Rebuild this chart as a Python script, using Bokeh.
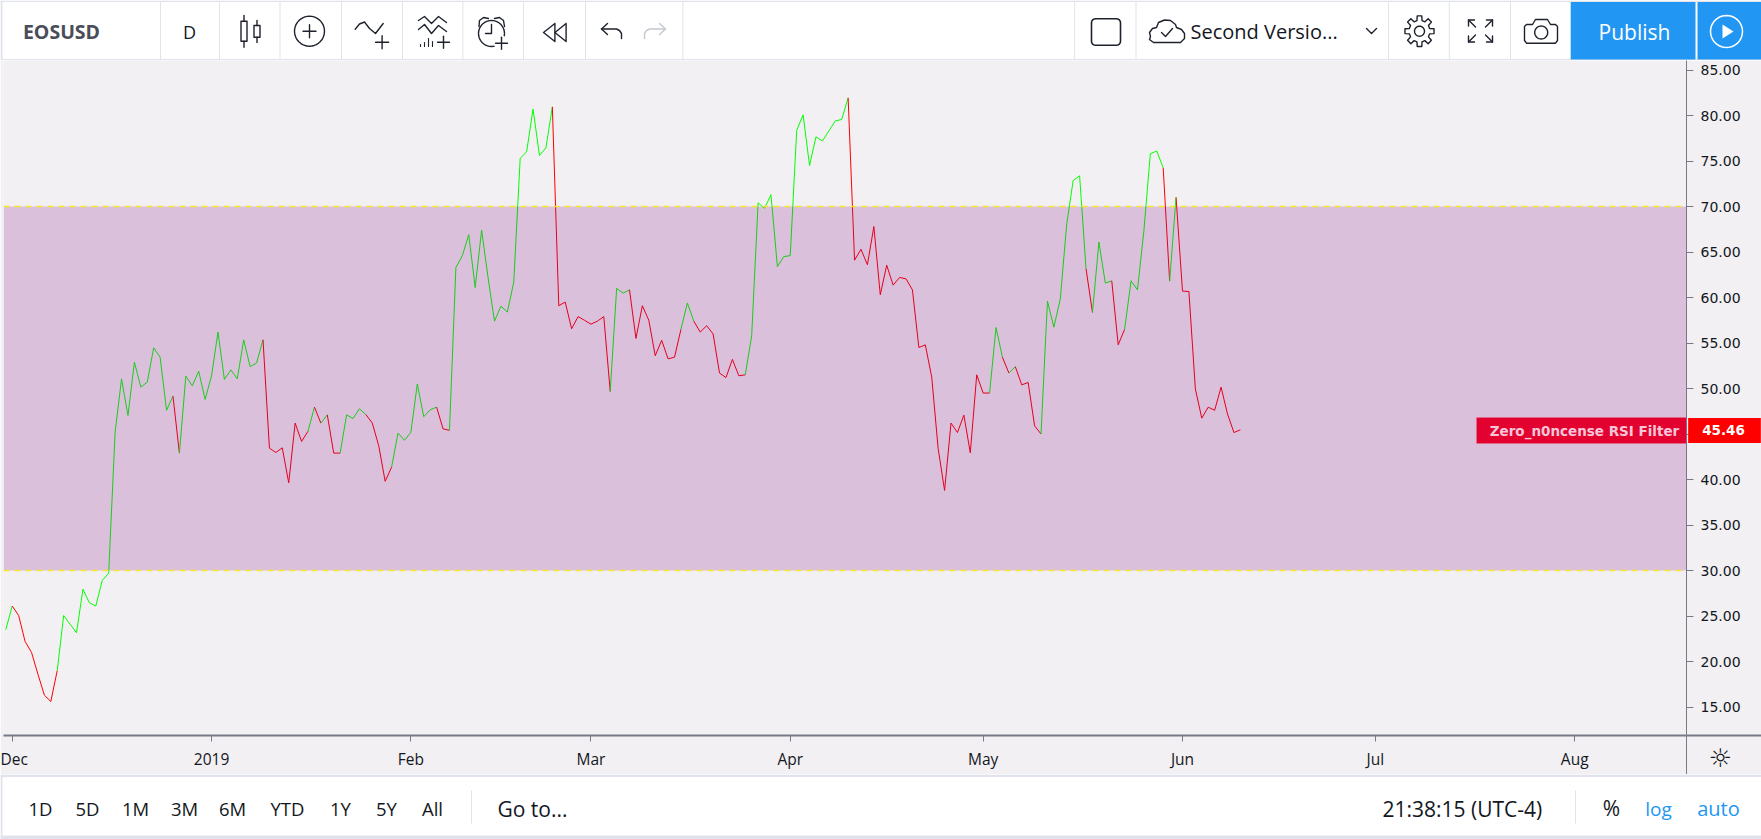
import math
import pandas as pd
from bokeh.plotting import figure
from bokeh.layouts import column
from bokeh.models import (Range1d, LinearAxis, FixedTicker, BoxAnnotation, Span, Label,
                          ColumnDataSource)
from bokeh.embed import file_html
from bokeh.resources import INLINE

symbol = "EOSUSD"
first_day = "2018-11-30"
rsi_values = [
 23.5,26.1,25.05,22.2,21.0,18.6,16.3,15.6,19.0,25.05,24.1,23.15,27.95,26.45,26.1,28.9,29.7,
 45.2,51.06,47.03,52.9,50.15,50.7,54.47,53.44,47.6,49.16,42.9,51.36,50.3,51.9,48.8,51.4,56.2,
 51.0,52.05,51.06,55.35,52.4,52.8,55.35,43.44,42.97,43.48,39.63,46.2,44.18,45.3,47.95,46.2,47.1,
 42.9,42.9,47.1,46.7,47.77,47.14,46.2,43.7,39.8,41.36,45.1,44.3,45.2,50.5,46.9,47.66,47.95,
 45.57,45.4,63.3,64.6,66.9,61.1,67.4,62.2,57.4,59.05,58.4,61.7,75.3,76.0,80.7,75.6,76.45,80.95,
 59.1,59.5,56.56,57.9,57.5,57.07,57.4,57.9,49.67,61.0,60.48,60.84,55.5,59.1,57.5,53.6,55.3,
 53.26,53.44,56.5,59.4,57.4,56.2,56.9,56.0,51.7,51.2,53.2,51.4,51.5,55.8,70.4,69.8,71.3,63.4,
 64.5,64.6,78.35,80.07,74.5,77.66,77.2,78.3,79.4,79.56,81.94,64.1,65.3,63.6,67.8,60.3,63.55,
 61.36,62.2,62.05,60.84,54.5,54.8,51.25,43.4,38.8,46.2,45.16,47.07,42.93,51.5,49.5,49.5,56.7,
 53.44,51.7,52.4,50.4,50.66,45.9,45.0,59.6,56.74,59.85,68.1,72.86,73.37,63.15,58.35,66.1,61.58,
 61.83,54.8,56.5,61.83,60.84,67.36,75.8,76.1,74.25,61.8,71.0,60.7,60.66,49.96,46.74,47.95,47.6,
 50.15,47.2,45.16,45.46]
# (colour state, number of daily segments in the run)
color_runs = [("up",1),("down",7),("up",18),("down",1),("up",13),("down",7),("up",1),("down",1),
 ("up",1),("down",2),("up",4),("down",4),("up",7),("down",2),("up",16),("down",9),("up",3),
 ("down",8),("up",2),("down",8),("up",16),("down",22),("up",2),("down",1),("up",1),("down",4),
 ("up",7),("down",1),("up",3),("down",2),("up",6),("down",1),("up",1),("down",10)]
band_upper = 70
band_lower = 30
y_ticks = [15,20,25,30,35,40,45,50,55,60,65,70,75,80,85]
month_ticks = ["2018-12-01","2019-01-01","2019-02-01","2019-03-01","2019-04-01","2019-05-01",
               "2019-06-01","2019-07-01","2019-08-01"]
month_labels = ["Dec","2019","Feb","Mar","Apr","May","Jun","Jul","Aug"]
last_value = "45.46"
indicator_name = "Zero_n0ncense RSI Filter"
range_buttons = [("1D",40),("5D",87),("1M",135),("3M",184),("6M",232),("YTD",287),("1Y",340),("5Y",386),("All",432)]

W, H_TOP, H_CHART, H_BOT = 1761, 60, 714, 65
FONT = "DejaVu Sans"
UI = "Open Sans"
INK = "#131722"
RULE = "#e0e3eb"
AXIS = "#787b86"
BG = "#f2f0f3"

DAY_MS = 86400000.0
t0 = pd.Timestamp(first_day)
days = pd.date_range(first_day, periods=len(rsi_values), freq="D")
xv = [d.value / 1e6 for d in days]
t0_ms = t0.value / 1e6
PX_DAY = 6.43
FIRST_PX = 5.3
x_left = t0_ms + (3 - FIRST_PX) / PX_DAY * DAY_MS
x_right = t0_ms + (1686 - FIRST_PX) / PX_DAY * DAY_MS
PX_UNIT = 9.1
y_top = band_upper + (206 - 60) / PX_UNIT
y_bot = band_lower - (735 - 570) / PX_UNIT

# ---------- chart ----------
p = figure(width=W, height=H_CHART, frame_width=1683, frame_height=675,
           output_backend="svg", toolbar_location=None, tools="",
           x_range=Range1d(x_left, x_right), y_range=Range1d(y_bot, y_top),
           x_axis_location=None, y_axis_location=None, frame_align=False,
           min_border_left=3, min_border_right=75, min_border_top=0, min_border_bottom=39,
           background_fill_color=BG, border_fill_color=BG, outline_line_color=None)
p.grid.visible = False

xs_runs, ys_runs, colors = [], [], []
i = 0
for state, n in color_runs:
    xs_runs.append(xv[i:i + n + 1])
    ys_runs.append(rsi_values[i:i + n + 1])
    colors.append("#00ff00" if state == "up" else "#ff0000")
    i += n
p.multi_line("xs", "ys", color="color", line_width=1.0,
             source=ColumnDataSource(dict(xs=xs_runs, ys=ys_runs, color=colors)))

p.add_layout(BoxAnnotation(top=band_upper, bottom=band_lower, fill_color="#800080", fill_alpha=0.2,
                           line_alpha=0, level="annotation"))
for lv in (band_upper, band_lower):
    p.add_layout(Span(location=lv, dimension="width", line_color="#f7e62a", line_width=1.5,
                      line_dash="6 5", level="annotation"))

# the long minor ticks draw the rules that run on from the axes into the corner
yax = LinearAxis(ticker=FixedTicker(ticks=y_ticks, minor_ticks=[y_bot]),
                 major_label_overrides={v: f"{v:.2f}" for v in y_ticks},
                 axis_line_color=AXIS, axis_line_width=1, major_tick_line_color=AXIS,
                 major_tick_out=7, major_tick_in=0, minor_tick_out=75, minor_tick_in=0,
                 minor_tick_line_color=AXIS, minor_tick_line_width=2,
                 major_label_text_font=FONT, major_label_text_font_size="14px",
                 major_label_text_color=INK, major_label_standoff=-61)
p.add_layout(yax, "right")

tick_ms = [pd.Timestamp(t).value / 1e6 for t in month_ticks]
xax = LinearAxis(ticker=FixedTicker(ticks=tick_ms, minor_ticks=[x_right]),
                 major_label_overrides=dict(zip(tick_ms, month_labels)),
                 axis_line_color=AXIS, axis_line_width=2, major_tick_line_color=AXIS,
                 major_tick_out=6, major_tick_in=0, minor_tick_out=39, minor_tick_in=0,
                 minor_tick_line_color=AXIS, minor_tick_line_width=1,
                 major_label_text_font=UI, major_label_text_font_size="15.5px",
                 major_label_text_color=INK, major_label_standoff=-27)
p.add_layout(xax, "below")

cy = lambda y: y - 60

p.add_layout(BoxAnnotation(left=1476, right=1686, top=cy(417), bottom=cy(443), left_units="canvas",
                           right_units="canvas", top_units="canvas", bottom_units="canvas",
                           fill_color="#e3012f", fill_alpha=1, line_color="#ec7a9c", level="annotation"))
p.add_layout(Label(x=1584, y=cy(430), x_units="canvas", y_units="canvas", text=indicator_name,
                   text_font=FONT, text_font_size="13.5px", text_font_style="bold", text_color="#f6c6d8",
                   text_align="center", text_baseline="middle", level="annotation"))
# side-panel labels are not clipped to the frame
p.add_layout(Label(x=1724, y=cy(430), x_units="canvas", y_units="canvas", text=last_value,
                   text_font=FONT, text_font_size="13.5px", text_font_style="bold", text_color="#ffffff",
                   text_align="center", text_baseline="middle", level="annotation",
                   background_fill_color="#ff0000", padding=(14, 16, 7, 8)), "right")
p.add_layout(Label(x=1720, y=cy(757), x_units="canvas", y_units="canvas", text="\u263c",
                   text_font=FONT, text_font_size="26px", text_color=INK,
                   text_align="center", text_baseline="middle", level="annotation"), "right")


# ---------- top bar ----------
def chrome(height, y0):
    f = figure(width=W, height=height, output_backend="svg", toolbar_location=None, tools="",
               x_range=Range1d(0, W), y_range=Range1d(y0 + height, y0), frame_align=False,
               x_axis_location=None, y_axis_location=None, min_border=0,
               background_fill_color="#ffffff", border_fill_color="#ffffff", outline_line_color=None)
    f.grid.visible = False
    return f


top = chrome(H_TOP, 0)
ICON = "#1e222d"


def pl(f, xs, ys, c=ICON, w=1.4):
    f.line(xs, ys, line_color=c, line_width=w, line_join="round", line_cap="round")


def circ(f, x, y, r, c=ICON, w=1.4):
    n = 40
    pl(f, [x + r * math.cos(2 * math.pi * k / n) for k in range(n + 1)],
       [y + r * math.sin(2 * math.pi * k / n) for k in range(n + 1)], c, w)


def plus(f, x, y, s):
    pl(f, [x - s, x + s], [y, y])
    pl(f, [x, x], [y - s, y + s])


def rrect(f, l, r, t, b, rad, c=ICON, w=1.6):
    xs, ys = [], []
    for (ax, ay, a0) in [(r - rad, t + rad, -90), (r - rad, b - rad, 0), (l + rad, b - rad, 90), (l + rad, t + rad, 180)]:
        for k in range(7):
            a = math.radians(a0 + 15 * k)
            xs.append(ax + rad * math.cos(a))
            ys.append(ay + rad * math.sin(a))
    xs.append(xs[0]); ys.append(ys[0])
    pl(f, xs, ys, c, w)


top.quad(left=0, right=W, top=0, bottom=1.5, fill_color=RULE, line_color=None)
top.quad(left=0, right=2, top=0, bottom=60, fill_color=RULE, line_color=None)
for x in [160, 219, 279.5, 341, 402, 462.4, 523, 585, 682.4, 1074.2, 1135.5, 1388, 1448.8, 1510]:
    top.segment(x, 1, x, 60, line_color=RULE, line_width=1)
top.quad(left=0, right=W, top=58.5, bottom=60, fill_color=RULE, line_color=None)
top.quad(left=1570.2, right=1695, top=1.5, bottom=59, fill_color="#2196f3", line_color=None)
top.quad(left=1697, right=1761, top=1.5, bottom=59, fill_color="#2196f3", line_color=None)

def t(f, x, y, s, size, color=INK, align="left", font=UI, style="normal"):
    f.add_layout(Label(x=x, y=y, text=s, text_font=font, text_font_size=size, text_color=color,
                       text_align=align, text_baseline="middle", text_font_style=style))


t(top, 61, 31, symbol, "19.5px", "#4a4d57", "center", UI, "bold")
t(top, 189, 31, "D", "18px", INK, "center")
t(top, 1190, 31, "Second Versio...", "20px")
t(top, 1634, 31, "Publish", "21px", "#ffffff", "center")
# candles
for x, bt, bb, wt, wb in [(243.5, 20.7, 40.7, 15, 46.7), (256.5, 25, 36.7, 20, 42)]:
    pl(top, [x, x], [wt, bt]); pl(top, [x, x], [bb, wb])
    pl(top, [x - 3, x + 3, x + 3, x - 3, x - 3], [bt, bt, bb, bb, bt])
circ(top, 309, 30.7, 15); plus(top, 309, 30.7, 6.5)
pl(top, [354.7, 359, 364, 369, 375, 382.7], [28.7, 23.5, 21.5, 28, 33, 23]); plus(top, 381.6, 41.7, 6.5)
pl(top, [418, 424, 431, 438, 446], [20, 16, 23, 16, 22]); pl(top, [418, 424, 431, 438, 446], [29, 24, 33, 25, 31])
for x, h in [(420, 2), (424, 4), (428, 8), (432, 5)]:
    pl(top, [x, x], [46, 46 - h], w=1.1)
plus(top, 443, 41.7, 6)
circ(top, 491, 33, 13); pl(top, [491, 491, 485], [24, 33, 33])
pl(top, [478.5, 479, 483, 488], [26, 20, 17, 18]); pl(top, [494, 499, 503, 504], [18, 17, 20, 26])
top.circle(501, 42.7, radius=7.5, fill_color="#ffffff", line_color=None)
plus(top, 501, 42.7, 6)
pl(top, [554.4, 543, 554.4, 554.4], [23, 32, 41, 23]); pl(top, [565.6, 554.4, 565.6, 565.6], [23, 32, 41, 23])
pl(top, [621, 621, 619, 616, 601], [38, 33, 30, 28.5, 28.5]); pl(top, [607, 601, 607], [23, 28.5, 34])
LG = "#c4c8d0"
pl(top, [644, 644, 646, 649, 665], [38, 33, 30, 28.5, 28.5], LG); pl(top, [659, 665, 659], [23, 28.5, 34], LG)
rrect(top, 1091, 1120, 18.3, 44.7, 4)
# cloud
cl = [(1150, 36), (1149, 32), (1152, 28), (1156, 27), (1158, 22), (1164, 19.5), (1170, 20), (1175, 24), (1176, 27),
      (1181, 29), (1184, 33), (1184, 38), (1180, 42), (1153, 42), (1149, 39), (1150, 36)]
pl(top, [a for a, _ in cl], [b for _, b in cl])
pl(top, [1161, 1165, 1172], [32, 36, 28])
pl(top, [1366, 1371, 1376], [28, 33, 28])
# gear
gx, gy = 1419, 30.7
g_x, g_y = [], []
for k in range(8):
    for da, r in [(-14, 11), (-9, 15.5), (9, 15.5), (14, 11)]:
        a = math.radians(45 * k + da)
        g_x.append(gx + r * 0.95 * math.cos(a)); g_y.append(gy + r * math.sin(a))
g_x.append(g_x[0]); g_y.append(g_y[0])
pl(top, g_x, g_y); circ(top, gx, gy, 5)
# fullscreen arrows
fx, fy = 1480, 30.5
for sxn, syn in [(-1, -1), (1, -1), (-1, 1), (1, 1)]:
    pl(top, [fx + sxn * 5, fx + sxn * 12], [fy + syn * 4, fy + syn * 11])
    pl(top, [fx + sxn * 6, fx + sxn * 12, fx + sxn * 12], [fy + syn * 11, fy + syn * 11, fy + syn * 5])
# camera
pl(top, [1524, 1524, 1526, 1532, 1535, 1547, 1550, 1555, 1557, 1557, 1555, 1526, 1524],
    [40, 26, 24, 24, 19, 19, 24, 24, 26, 40, 42.7, 42.7, 40])
circ(top, 1540.7, 32, 6.5)
circ(top, 1726, 31, 16, "#ffffff", 1.5)
top.patch([1722, 1733, 1722], [24, 31, 38], fill_color="#ffffff", line_color=None)

# ---------- footer ----------
bot = chrome(H_BOT, 774)
bot.quad(left=0, right=W, top=774, bottom=776.5, fill_color=RULE, line_color=None)
bot.quad(left=0, right=W, top=835, bottom=839, fill_color=RULE, line_color=None)
bot.quad(left=0, right=2, top=774, bottom=839, fill_color=RULE, line_color=None)
for s, x in range_buttons:
    t(bot, x, 808, s, "18.5px", INK, "center")
bot.segment(471, 790, 471, 823, line_color=RULE, line_width=1)
bot.segment(1575, 790, 1575, 823, line_color=RULE, line_width=1)
t(bot, 497, 808, "Go to...", "21px")
t(bot, 1382, 808, "21:38:15 (UTC-4)", "21px")
t(bot, 1611, 807, "%", "21px", INK, "center")
t(bot, 1658, 808, "log", "19px", "#2196f3", "center")
t(bot, 1718, 808, "auto", "20px", "#2196f3", "center")

page = column(top, p, bot, spacing=0)
html = file_html(page, INLINE).replace("<body>", '<body style="overflow:hidden">')
open("out.html", "w").write(html)
